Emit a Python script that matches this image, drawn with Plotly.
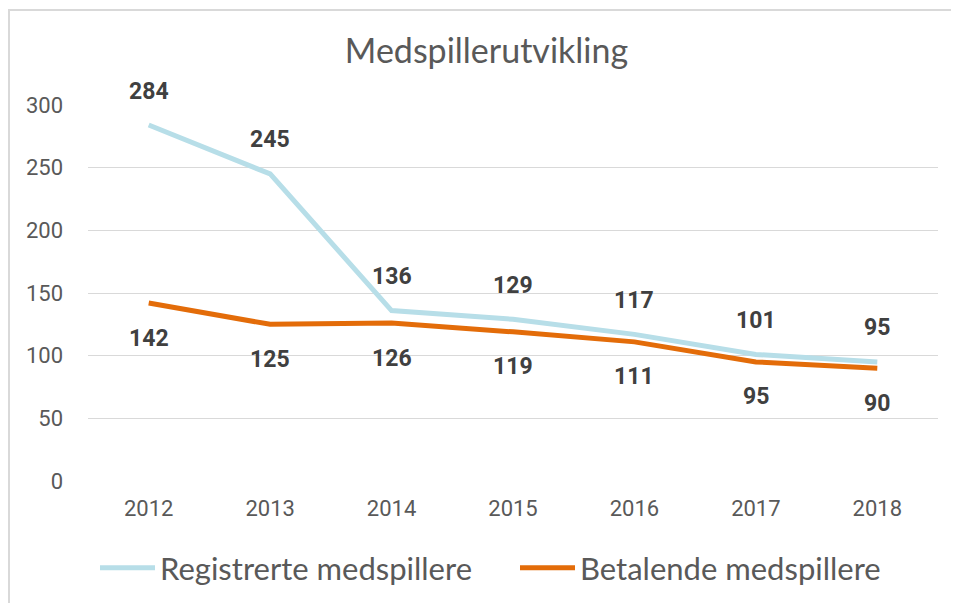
import plotly.graph_objects as go

years = ["2012", "2013", "2014", "2015", "2016", "2017", "2018"]
registrerte = [284, 245, 136, 129, 117, 101, 95]
betalende = [142, 125, 126, 119, 111, 95, 90]
series_names = ["Registrerte medspillere", "Betalende medspillere"]
title_text = "Medspillerutvikling"

BLUE = "#B7DEE8"
ORANGE = "#E36C09"
TICK = "#595959"
LABEL = "#404040"

# page body has an 8px margin: plot area left=80, right=930, top=97, bottom=473 (figure px)
L, R, T, B = 80, 930, 97, 473
W, H = 959, 603
PW, PH = R - L, B - T

fig = go.Figure()
fig.add_trace(go.Scatter(x=years, y=registrerte, mode="lines", name=series_names[0],
                         line=dict(color=BLUE, width=5), legend="legend"))
fig.add_trace(go.Scatter(x=years, y=betalende, mode="lines", name=series_names[1],
                         line=dict(color=ORANGE, width=5), legend="legend2"))

annotations = []
for i, y in enumerate(registrerte):
    annotations.append(dict(x=i, y=y, xref="x", yref="y", text=f"<b>{y}</b>", showarrow=False,
                            yshift=34, font=dict(family="Roboto", size=23, color=LABEL)))
for i, y in enumerate(betalende):
    annotations.append(dict(x=i, y=y, xref="x", yref="y", text=f"<b>{y}</b>", showarrow=False,
                            yshift=-35, font=dict(family="Roboto", size=23, color=LABEL)))

legend_common = dict(orientation="h", xanchor="left", y=(B - 560) / PH, yanchor="middle",
                     font=dict(family="Lato", size=31, color=TICK), itemwidth=55,
                     itemsizing="constant", bgcolor="rgba(0,0,0,0)")

fig.update_layout(
    width=W, height=H,
    margin=dict(l=L, r=W - R, t=T, b=H - B, autoexpand=False),
    paper_bgcolor="white", plot_bgcolor="white",
    title=dict(text=title_text, x=478.5 / W, xanchor="center", y=1 - 43 / H, yanchor="middle",
               yref="container", xref="container",
               font=dict(family="Lato", size=34, color=TICK)),
    xaxis=dict(type="category", range=[-0.5, 6.5], showgrid=False, showline=False, zeroline=False,
               ticks="", tickfont=dict(family="Roboto", size=22, color=TICK), ticklabelstandoff=12),
    yaxis=dict(range=[0, 300], dtick=50, showgrid=True, gridcolor="#D9D9D9", gridwidth=1.3,
               zeroline=False, showline=False, ticks="",
               tickfont=dict(family="Roboto", size=22, color=TICK), ticklabelstandoff=24),
    legend=dict(x=(87 - L) / PW, **legend_common),
    legend2=dict(x=(507 - L) / PW, **legend_common),
    annotations=annotations,
    shapes=[dict(type="rect", xref="paper", yref="paper",
                 x0=(1 - L) / PW, x1=1.2, y0=-0.6, y1=(B - 2) / PH,
                 line=dict(color="#D9D9D9", width=2), layer="below")],
    showlegend=True,
)

fig.write_html("out.html")
